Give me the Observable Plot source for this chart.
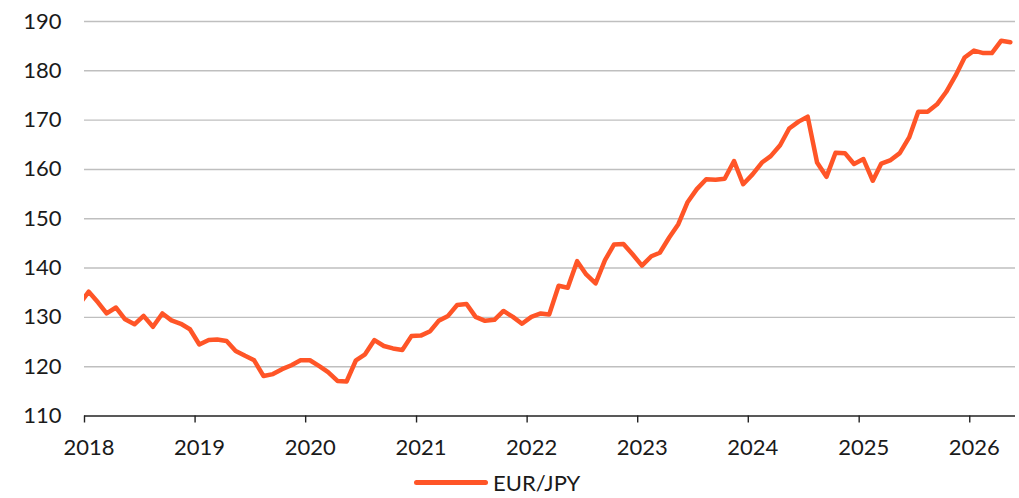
<!DOCTYPE html>
<html>
<head>
<meta charset="utf-8">
<script src="https://cdn.jsdelivr.net/npm/d3@7"></script>
<script src="https://cdn.jsdelivr.net/npm/@observablehq/plot@0.6"></script>
<style>
  html, body { margin: 0; padding: 0; background: #fff; }
  body { width: 1019px; height: 498px; overflow: hidden; font-family: Lato, "Noto Sans", sans-serif; color: #1a1a1a; }
  #legend { display: flex; align-items: center; height: 28px; margin-left: 414px; font-size: 22px; }
  #legend .swatch { width: 74px; height: 5px; border-radius: 3px; background: #ff5527; margin-right: 5px; }
</style>
</head>
<body>
<div id="chart"></div>
<div id="legend"><span class="swatch"></span><span>EUR/JPY</span></div>
<script>
// Monthly EUR/JPY, first value is Dec 2017 (partly outside the plotted range)
const firstMonth = "2017-12";
const eurjpy = [
  132.7,
  135.2, 133.0, 130.8, 132.0, 129.6, 128.6, 130.3, 128.1, 130.8, 129.4, 128.7, 127.6,
  124.5, 125.4, 125.5, 125.2, 123.2, 122.2, 121.3, 118.1, 118.5, 119.5, 120.3, 121.3,
  121.3, 120.1, 118.9, 117.1, 117.0, 121.3, 122.5, 125.4, 124.2, 123.7, 123.4, 126.2,
  126.3, 127.2, 129.3, 130.3, 132.5, 132.7, 130.1, 129.3, 129.5, 131.3, 130.1, 128.7,
  130.1, 130.8, 130.6, 136.4, 136.0, 141.4, 138.7, 136.9, 141.6, 144.8, 144.9, 142.8,
  140.5, 142.4, 143.1, 146.2, 148.9, 153.4, 156.0, 158.0, 157.9, 158.1, 161.7, 157.0,
  159.0, 161.4, 162.7, 164.9, 168.3, 169.7, 170.7, 161.4, 158.5, 163.4, 163.3, 161.1,
  162.1, 157.7, 161.2, 161.9, 163.3, 166.5, 171.7, 171.7, 173.2, 175.7, 179.0, 182.7,
  184.1, 183.6, 183.6, 186.1, 185.8
];
const yTicks = [110, 120, 130, 140, 150, 160, 170, 180, 190];
const yearTicks = ["2018", "2019", "2020", "2021", "2022", "2023", "2024", "2025", "2026"];
const xStart = "2018-01-01";
const xEnd = "2026-06-01";

const [fy, fm] = firstMonth.split("-").map(Number);
const data = eurjpy.map((v, i) => ({
  date: new Date(Date.UTC(fy, fm - 1 + i, 15)),
  value: v
}));
const xTickDates = yearTicks.map(y => new Date(Date.UTC(+y, 0, 1)));

const chart = Plot.plot({
  width: 1019,
  height: 468,
  marginLeft: 84,
  marginRight: 4,
  marginTop: 21,
  marginBottom: 52.5,
  style: { fontFamily: "Lato, 'Noto Sans', sans-serif", fontSize: "22px", color: "#1a1a1a", background: "#fff", overflow: "visible" },
  x: { type: "utc", domain: [new Date(xStart), new Date(xEnd)] },
  y: { domain: [110, 190] },
  marks: [
    Plot.gridY(yTicks.filter(t => t !== 110), { stroke: "#bfbfbf", strokeOpacity: 1, strokeWidth: 1.4 }),
    Plot.axisY(yTicks, { tickSize: 0, tickPadding: 23, tickFormat: d => String(d), fill: "#1a1a1a", label: null }),
    Plot.ruleY([110], { stroke: "#222", strokeWidth: 1.4 }),
    Plot.axisX(xTickDates, { tickSize: 7, stroke: "#222", strokeWidth: 1.4, tickFormat: () => "", label: null }),
    Plot.axisX(xTickDates, { tickSize: 0, tickPadding: 23, tickFormat: d => String(d.getUTCFullYear()), dx: 4.5, fill: "#1a1a1a", label: null }),
    Plot.line(data, { x: "date", y: "value", stroke: "#ff5527", strokeWidth: 4.5, strokeLinejoin: "round", strokeLinecap: "round", clip: true })
  ]
});
document.getElementById("chart").appendChild(chart);
</script>
</body>
</html>
